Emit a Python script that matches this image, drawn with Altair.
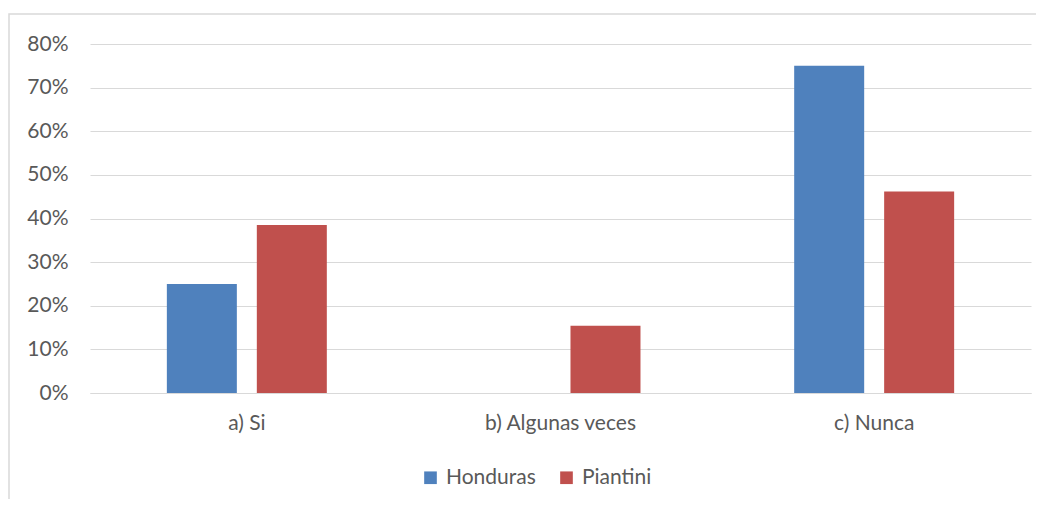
import altair as alt
import pandas as pd

categories = ["a) Si", "b) Algunas veces", "c) Nunca"]
series = ["Honduras", "Piantini"]
honduras = [0.25, 0.0, 0.75]
piantini = [0.385, 0.154, 0.462]

rows = []
for c, h, p in zip(categories, honduras, piantini):
    rows.append({"cat": c, "serie": "Honduras", "val": h})
    rows.append({"cat": c, "serie": "Piantini", "val": p})
df = pd.DataFrame(rows)

FONT = "Lato"
GRAY = "#595959"

bars = alt.Chart(df).mark_bar().encode(
    x=alt.X("cat:N", sort=categories,
            scale=alt.Scale(paddingInner=0.49, paddingOuter=0.245),
            axis=alt.Axis(title=None, labelAngle=0, labelPadding=19, ticks=False,
                          domain=True, domainColor="#d9d9d9", labelFontSize=21,
                          labelColor=GRAY, labelFont=FONT)),
    xOffset=alt.XOffset("serie:N", sort=series,
                        scale=alt.Scale(paddingInner=0.222, paddingOuter=0)),
    y=alt.Y("val:Q", scale=alt.Scale(domain=[0, 0.8]),
            axis=alt.Axis(title=None, format=".0%", values=[0, .1, .2, .3, .4, .5, .6, .7, .8],
                          ticks=False, domain=False, labelPadding=22, labelFontSize=21,
                          labelColor=GRAY, labelFont=FONT, gridColor="#d9d9d9")),
    color=alt.Color("serie:N", sort=series,
                    scale=alt.Scale(domain=series, range=["#4F81BD", "#C0504D"]),
                    legend=alt.Legend(title=None, orient="none", direction="horizontal",
                                      legendX=330, legendY=423, symbolType="square",
                                      symbolSize=160, symbolStrokeWidth=0,
                                      labelFontSize=21, labelColor=GRAY, labelFont=FONT,
                                      columnPadding=20, symbolOffset=0, labelOffset=5)),
)

border = alt.Chart(pd.DataFrame({"a": [0]})).mark_rect(
    fill=None, stroke="#d9d9d9", strokeWidth=1.5, clip=False
).encode(x=alt.value(-81), x2=alt.value(1100), y=alt.value(-30), y2=alt.value(600))

chart = alt.layer(border, bars).properties(
    width=941, height=349,
    autosize=alt.AutoSizeParams(type="none"),
    padding={"left": 82, "top": 36, "right": 5, "bottom": 106},
).configure(background="white").configure_view(stroke=None)

chart.save("out.html", embed_options={"renderer": "svg", "actions": False})
